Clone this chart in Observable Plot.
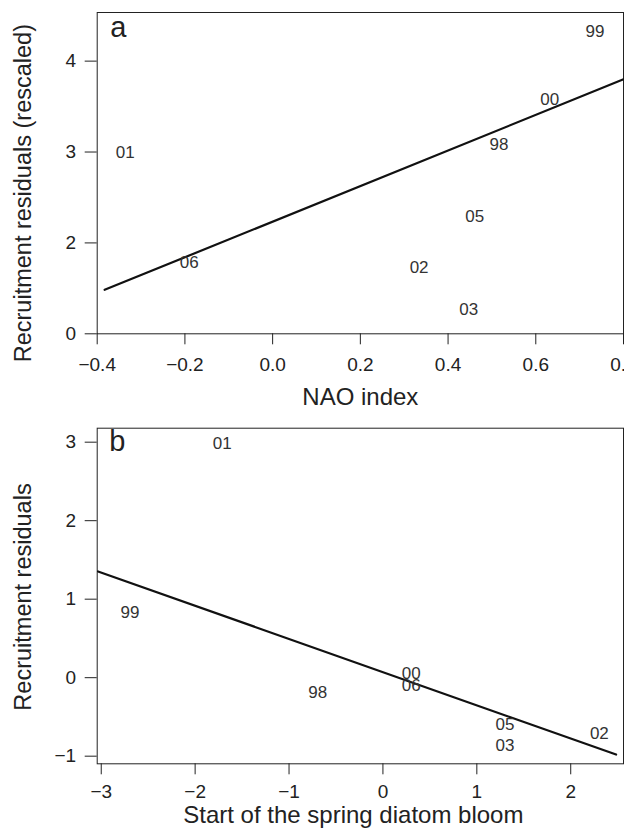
<!DOCTYPE html>
<html>
<head>
<meta charset="utf-8">
<script src="https://cdn.jsdelivr.net/npm/d3@7"></script>
<script src="https://cdn.jsdelivr.net/npm/@observablehq/plot@0.6"></script>
<style>
  body { margin: 0; background: #fff; }
  #a, #b { display: block; width: 624px; }
</style>
</head>
<body>
<div id="a"></div>
<div id="b"></div>
<script>
// ---- Panel a: NAO index vs recruitment residuals (rescaled)
const yearsA = ["99", "00", "98", "01", "05", "06", "02", "03"];
const naoA   = [0.735, 0.632, 0.516, -0.336, 0.461, -0.190, 0.334, 0.447];
const recA   = [4.33, 3.578, 3.083, 2.999, 2.291, 1.788, 1.733, 1.264];
const fitAx  = [-0.383, 0.80];
const fitAy  = [1.484, 3.80];
const xTicksA = [-0.4, -0.2, 0.0, 0.2, 0.4, 0.6, 0.8];
const yTicksA = [1, 2, 3, 4];
const yTickLabelsA = ["0", "2", "3", "4"];

// ---- Panel b: start of spring diatom bloom vs recruitment residuals
const yearsB = ["01", "99", "98", "00", "06", "05", "03", "02"];
const bloomB = [-1.712, -2.695, -0.695, 0.301, 0.301, 1.30, 1.30, 2.305];
const recB   = [2.98, 0.834, -0.187, 0.055, -0.106, -0.591, -0.86, -0.711];
const fitBx  = [-3.034, 2.483];
const fitBy  = [1.353, -0.979];
const xTicksB = [-3, -2, -1, 0, 1, 2];
const yTicksB = [-1, 0, 1, 2, 3];

const FONT = "'Liberation Sans', Arial, Helvetica, sans-serif";
const INK = "#222";

const ptsA = yearsA.map((t, i) => ({t, x: naoA[i], y: recA[i]}));
const fitA = fitAx.map((x, i) => ({x, y: fitAy[i]}));
const ptsB = yearsB.map((t, i) => ({t, x: bloomB[i], y: recB[i]}));
const fitB = fitBx.map((x, i) => ({x, y: fitBy[i]}));

const plotA = Plot.plot({
  width: 624, height: 415,
  marginTop: 12, marginBottom: 81.7, marginLeft: 96.7, marginRight: 1,
  style: {fontFamily: FONT, fontSize: "19px", color: INK, background: "#fff"},
  x: {domain: [-0.4, 0.8]},
  y: {domain: [1, 4.535]},
  marks: [
    Plot.frame({stroke: INK, strokeWidth: 1}),
    Plot.axisX({ticks: xTicksA, tickFormat: d3.format(".1f"), tickSize: 11, tickPadding: 13, label: null, fontSize: 19}),
    Plot.axisY({ticks: yTicksA, tickFormat: (d, i) => yTickLabelsA[yTicksA.indexOf(d)], tickSize: 12, tickPadding: 9, label: null, fontSize: 19}),
    Plot.line(fitA, {x: "x", y: "y", stroke: "#111", strokeWidth: 2.2}),
    Plot.text(ptsA, {x: "x", y: "y", text: "t", fontSize: 17, fill: "#333", textAnchor: "middle", lineAnchor: "middle"}),
    Plot.text(["a"], {text: d => d, frameAnchor: "top-left", dx: 13, dy: 4, fontSize: 29, fill: INK, textAnchor: "start", lineAnchor: "top"}),
    Plot.text(["NAO index"], {text: d => d, frameAnchor: "bottom", dy: 64, fontSize: 24, fill: INK, lineAnchor: "middle"}),
    Plot.text(["Recruitment residuals (rescaled)"], {text: d => d, frameAnchor: "left", rotate: -90, dx: -73.7, dy: 20, fontSize: 23.5, fill: INK, textAnchor: "middle", lineAnchor: "middle"})
  ]
});
document.getElementById("a").appendChild(plotA);

const plotB = Plot.plot({
  width: 624, height: 419,
  marginTop: 12.7, marginBottom: 70.7, marginLeft: 96.7, marginRight: 1,
  style: {fontFamily: FONT, fontSize: "19px", color: INK, background: "#fff"},
  x: {domain: [-3.043, 2.562]},
  y: {domain: [-1.097, 3.178]},
  marks: [
    Plot.frame({stroke: INK, strokeWidth: 1}),
    Plot.axisX({ticks: xTicksB, tickFormat: d3.format("d"), tickSize: 11, tickPadding: 10, label: null, fontSize: 19}),
    Plot.axisY({ticks: yTicksB, tickFormat: d3.format("d"), tickSize: 12, tickPadding: 9, label: null, fontSize: 19}),
    Plot.line(fitB, {x: "x", y: "y", stroke: "#111", strokeWidth: 2.2}),
    Plot.text(ptsB, {x: "x", y: "y", text: "t", fontSize: 17, fill: "#333", textAnchor: "middle", lineAnchor: "middle"}),
    Plot.text(["b"], {text: d => d, frameAnchor: "top-left", dx: 12, dy: 2, fontSize: 29, fill: INK, textAnchor: "start", lineAnchor: "top"}),
    Plot.text(["Start of the spring diatom bloom"], {text: d => d, frameAnchor: "bottom", dx: -7, dy: 52, fontSize: 24, fill: INK, lineAnchor: "middle"}),
    Plot.text(["Recruitment residuals"], {text: d => d, frameAnchor: "left", rotate: -90, dx: -73.7, dy: 1, fontSize: 23.5, fill: INK, textAnchor: "middle", lineAnchor: "middle"})
  ]
});
document.getElementById("b").appendChild(plotB);
</script>
</body>
</html>
